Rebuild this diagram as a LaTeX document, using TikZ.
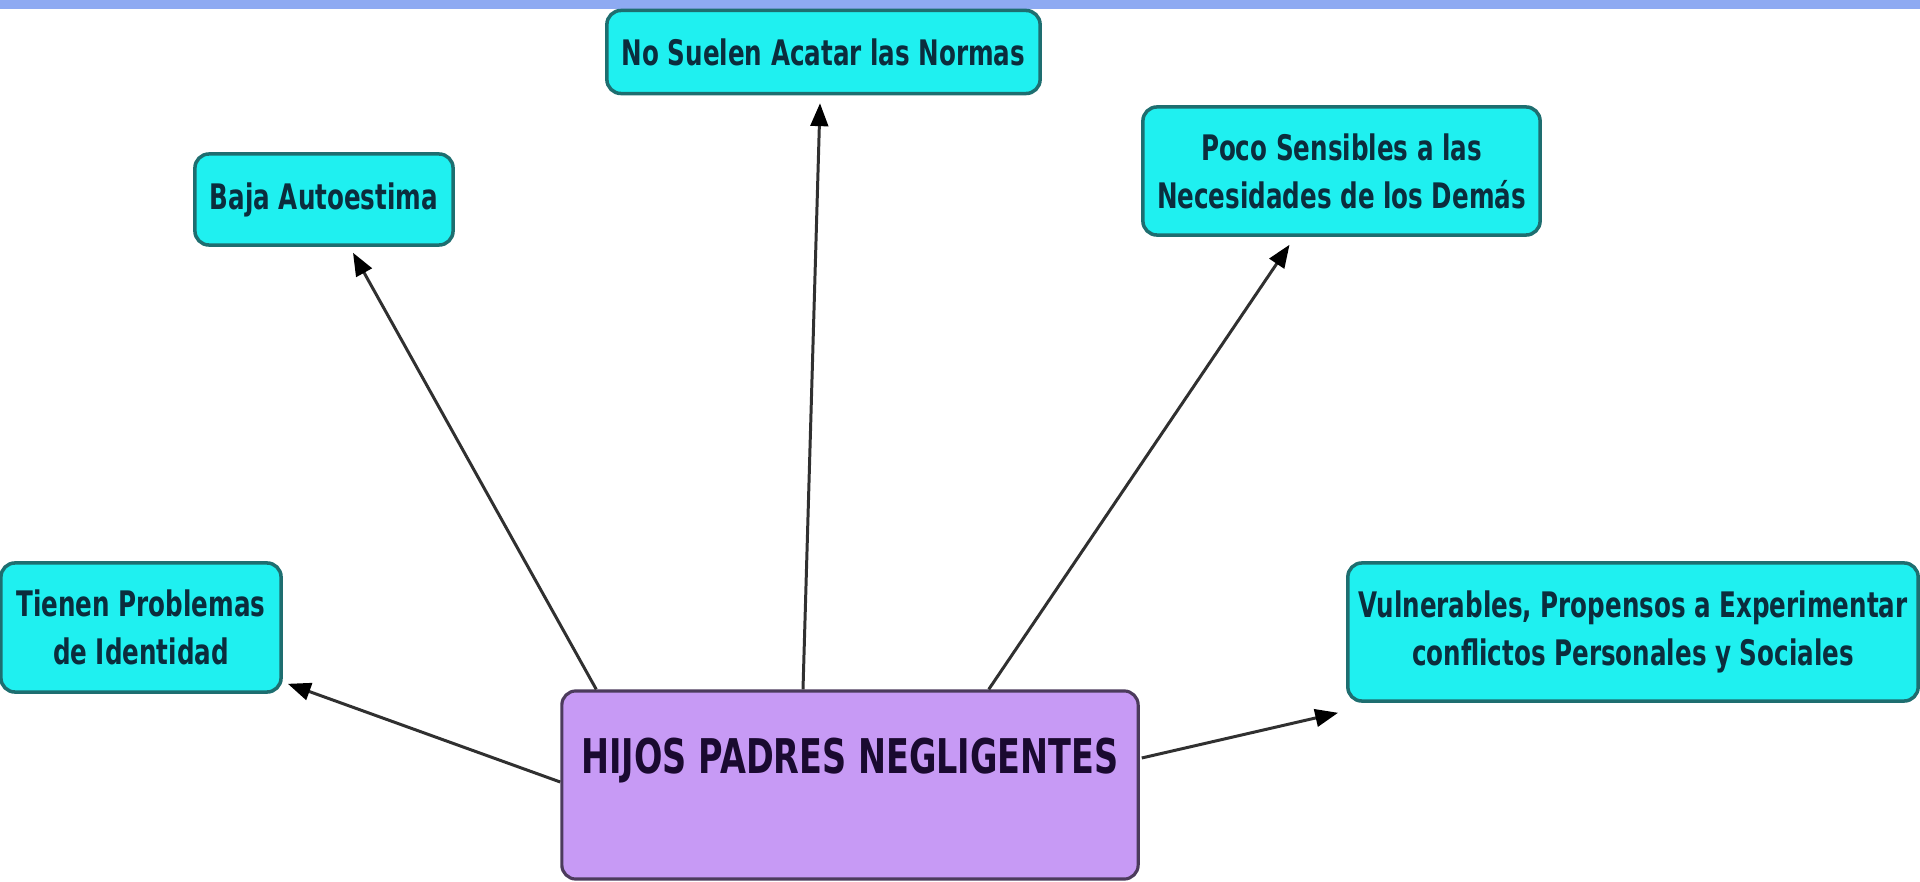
\documentclass[tikz,border=0pt]{standalone}
\usepackage{fontspec}
\setmainfont{DejaVu Sans}[FakeStretch=0.7]
\usetikzlibrary{arrows.meta,calc}
\definecolor{band}{HTML}{8EAAF2}
\definecolor{cyanfill}{HTML}{1FF0F0}
\definecolor{cyanline}{HTML}{1E6E70}
\definecolor{cyantext}{HTML}{0B2D3D}
\definecolor{mainfill}{HTML}{C79AF5}
\definecolor{mainline}{HTML}{4C3B5C}
\definecolor{maintext}{HTML}{1A0A30}
\definecolor{arrline}{HTML}{303030}
\tikzset{
  leafbox/.style={rectangle, rounded corners=4pt, draw=cyanline, line width=1pt,
    fill=cyanfill, text=cyantext, inner sep=0pt, align=center,
    font=\fontsize{10}{13.7}\selectfont\bfseries},
  rootbox/.style={rectangle, rounded corners=4pt, draw=mainline, line width=0.9pt,
    fill=mainfill, inner sep=0pt},
  roottext/.style={text=maintext, inner sep=0pt,
    font=\fontsize{13.6}{16}\selectfont\bfseries},
  arr/.style={draw=arrline, line width=0.85pt,
    -{Triangle[length=6.5pt,width=5pt,fill=black,color=black]}}
}
\begin{document}
\begin{tikzpicture}[x=0.01cm,y=-0.01cm]
\useasboundingbox (0,0) rectangle (1920,882);
\fill[band] (0,0) rectangle (1920,9);
% nodes
\node[leafbox, minimum width=4.33cm, minimum height=0.83cm] (nosuelen) at (823.5,52) {No Suelen Acatar las Normas};
\node[leafbox, minimum width=2.58cm, minimum height=0.91cm] (baja) at (324,199.5) {Baja Autoestima};
\node[leafbox, minimum width=3.97cm, minimum height=1.28cm] (poco) at (1341.5,171) {Poco Sensibles a las\\Necesidades de los Demás};
\node[leafbox, minimum width=2.80cm, minimum height=1.29cm] (tienen) at (141,627.5) {Tienen Problemas\\de Identidad};
\node[leafbox, minimum width=5.70cm, minimum height=1.38cm] (vuln) at (1633,632) {Vulnerables, Propensos a Experimentar\\conflictos Personales y Sociales};
\node[rootbox, minimum width=5.76cm, minimum height=1.88cm] (main) at (850,785) {};
\node[roottext] (maintitle) at (850,761) {HIJOS PADRES NEGLIGENTES};
% connectors
\draw[arr] ($(main.west)+(0,-3)$) -- ($(tienen.south east)+(5,-10)$);
\draw[arr] ($(main.north west)+(36,0)$) -- ($(baja.south)+(29,6)$);
\draw[arr] ($(main.north)+(-47,0)$) -- ($(nosuelen.south)+(-3.5,8)$);
\draw[arr] ($(main.north east)+(-151,0)$) -- ($(poco.south)+(-52,8)$);
\draw[arr] ($(main.east)+(2,-27)$) -- ($(vuln.south west)+(-8,10)$);
\end{tikzpicture}
\end{document}
